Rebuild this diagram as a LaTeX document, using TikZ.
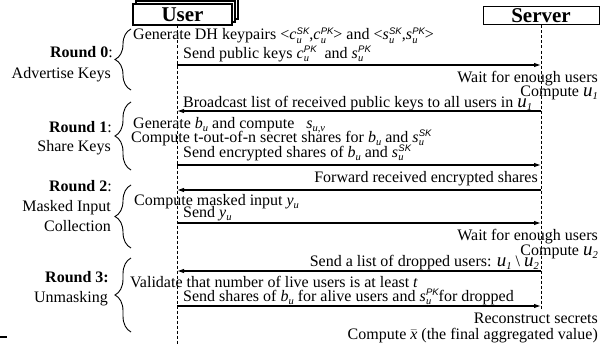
\documentclass[tikz,border=0pt]{standalone}
\usepackage{fontspec}
\setmainfont{Liberation Serif}
\setsansfont{Liberation Sans}
\usetikzlibrary{arrows.meta,decorations.pathreplacing}
% sub/superscripts built in text mode
\newcommand\subtx[1]{\raisebox{-3.5pt}{\fontsize{10.5}{10.5}\selectfont\itshape #1}}
\newcommand\kp[2]{\textit{#1}\kern0.3pt\rlap{\subtx{u}}\raisebox{5.5pt}{\fontsize{9.5}{9.5}\selectfont\sffamily\itshape #2}}
\newcommand\usub[1]{{\fontsize{19}{19}\selectfont\itshape u}\subtx{#1}}
\newcommand\bu{\textit{b}\subtx{u}}
\newcommand\yu{\textit{y}\subtx{u}}
\tikzset{
  txt/.style={font=\fontsize{16}{16}\selectfont, inner sep=0pt},
  lft/.style={txt, anchor=base west},
  rgt/.style={txt, anchor=base east},
  actor/.style={draw, line width=1.1pt, fill=white},
  msg/.style={line width=1.1pt, -{Latex[length=7pt,width=4.5pt]}},
  life/.style={line width=0.7pt, dash pattern=on 3pt off 2pt},
  brc/.style={line width=0.9pt, decorate, decoration={brace, amplitude=16pt}}
}
\begin{document}
\begin{tikzpicture}[x=1pt,y=-1pt]
\useasboundingbox (0,0) rectangle (601,345);
% actors
\draw[actor] (139,-2) rectangle (238,19);
\draw[actor] (136,1) rectangle (235,22);
\node[actor, minimum width=99pt, minimum height=21pt, inner sep=0pt,
      font=\fontsize{21}{21}\selectfont\bfseries] (user) at (182.5,14.5) {User};
\node[actor, line width=1pt, minimum width=116pt, minimum height=18pt, inner sep=0pt,
      font=\fontsize{21}{21}\selectfont\bfseries] (server) at (541,16) {Server};
% lifelines
\coordinate (ub) at (177,345);
\coordinate (sb) at (541,310);
\draw[life] (177,25.5) -- (ub);
\draw[life] (server.south) -- (sb);
% message anchors
\foreach \n/\y in {a/65, b/111, c/165, d/190, e/223, f/271, g/306} {
  \coordinate (u\n) at (177,\y);
  \coordinate (s\n) at (541,\y);
}
\draw[msg] (ua) -- (sa);
\draw[msg] (sb) -- (ub);
\draw[msg] (uc) -- (sc);
\draw[msg] (sd) -- (ud);
\draw[msg] (ue) -- (se);
\draw[msg] (sf) -- (uf);
\draw[msg] (ug) -- (sg);
% texts
\node[lft] (t1) at (133,40) {Generate DH keypairs <\kp{c}{SK},\kp{c}{PK}> and <\kp{s}{SK},\kp{s}{PK}>};
\node[lft] (t2) at (183,58) {Send public keys \kp{c}{PK}\ \ and \kp{s}{PK}};
\node[rgt] (t3) at (598,82) {Wait for enough users};
\node[rgt] (t4) at (598,96) {Compute \usub{1}};
\node[lft] (t5) at (183,107) {Broadcast list of received public keys to all users in \usub{1}};
\node[lft] (t6) at (133,128) {Generate \bu\ and compute\ \ \ \textit{s}\subtx{u,v}};
\node[lft] (t7) at (131,142) {Compute t-out-of-n secret shares for \bu\ and \kp{s}{SK}};
\node[lft] (t8) at (183,157) {Send encrypted shares of \bu\ and \kp{s}{SK}};
\node[rgt] (t9) at (538,182) {Forward received encrypted shares};
\node[lft] (t10) at (134,205) {Compute masked input \yu};
\node[lft] (t11) at (183,217) {Send \yu};
\node[rgt] (t12) at (598,240) {Wait for enough users};
\node[rgt] (t13) at (598,255) {Compute \usub{2}};
\node[rgt] (t14) at (539,266) {Send a list of dropped users: \usub{1} \textbackslash\ \usub{2}};
\node[lft] (t15) at (130,287) {Validate that number of live users is at least \textit{t}};
\node[lft] (t16) at (183,301) {Send shares of \bu\ for alive users and \kp{s}{PK}for dropped};
\node[rgt] (t17) at (598,323) {Reconstruct secrets};
\node[rgt] (t18) at (598,339) {Compute $\bar{\textit{x}}$ (the final aggregated value)};
% round labels
\node[rgt] (r0a) at (113,57) {\textbf{Round 0}:};
\node[rgt] (r0b) at (111,78) {Advertise Keys};
\node[rgt] (r1a) at (112,132) {\textbf{Round 1}:};
\node[rgt] (r1b) at (111,151) {Share Keys};
\node[rgt] (r2a) at (112,191) {\textbf{Round 2}:};
\node[rgt] (r2b) at (111,211) {Masked Input};
\node[rgt] (r2c) at (111,231) {Collection};
\node[rgt] (r3a) at (109,282) {\textbf{Round 3:}};
\node[rgt] (r3b) at (108,302) {Unmasking};
% braces
\draw[brc] (131,90) -- (131,29);
\draw[brc] (131,170) -- (131,102);
\draw[brc] (131,248) -- (131,185);
\draw[brc] (131,332) -- (131,258);
% page remnant at the left edge
\draw[line width=1.5pt] (0,337) -- (7,337);
\end{tikzpicture}
\end{document}
